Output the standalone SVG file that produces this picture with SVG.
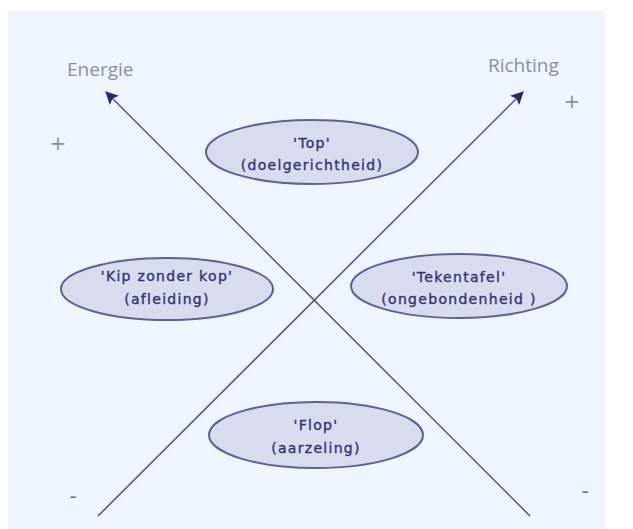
<svg xmlns="http://www.w3.org/2000/svg" width="633" height="529" viewBox="0 0 633 529">
<defs>
<marker id="ah" viewBox="0 0 12 12" refX="11" refY="6" markerWidth="13" markerHeight="13" markerUnits="userSpaceOnUse" orient="auto">
<path d="M0,0 L12,6 L0,12 L2.5,6 Z" fill="#252a6a"/>
</marker>
<style>
.ax{stroke:#4d5290;stroke-width:1.5;fill:none}
.nd ellipse{fill:#d9dcee;stroke:#5d6290;stroke-width:2}
.nd text{font-family:"DejaVu Sans",Verdana,sans-serif;font-size:14px;fill:#2f3472;stroke:#2f3472;stroke-width:0.35;text-anchor:middle;letter-spacing:1.3px}
.lb{font-family:"Open Sans","DejaVu Sans",sans-serif;font-size:19px;fill:#8a8ea8}
.sg{font-family:"DejaVu Sans",sans-serif;font-size:20px;fill:#8a8ea8;text-anchor:middle}
.mn{font-family:"DejaVu Sans",sans-serif;font-size:20px;fill:#6a6e88;text-anchor:middle}
</style>
</defs>
<rect x="0" y="0" width="633" height="529" fill="#ffffff"/>
<rect x="8" y="11" width="597" height="518" fill="#eef5fd"/>
<g id="labels">
<text class="lb" x="67" y="76">Energie</text>
<text class="lb" x="488" y="72">Richting</text>
<text class="sg" x="572" y="108">+</text>
<text class="sg" x="58" y="150">+</text>
<text class="mn" x="73" y="503">-</text>
<text class="mn" x="585" y="498">-</text>
</g>
<g id="connectors">
<line class="ax" x1="98" y1="516" x2="523" y2="92" marker-end="url(#ah)"/>
<line class="ax" x1="530" y1="516" x2="106" y2="92" marker-end="url(#ah)"/>
</g>
<g id="top" class="nd">
<ellipse cx="312" cy="152" rx="106" ry="32"/>
<text x="312" y="148">'Top'</text>
<text x="312" y="170">(doelgerichtheid)</text>
</g>
<g id="kip" class="nd">
<ellipse cx="167" cy="289" rx="106" ry="31"/>
<text x="167" y="281">'Kip zonder kop'</text>
<text x="167" y="304">(afleiding)</text>
</g>
<g id="tekentafel" class="nd">
<ellipse cx="459" cy="286" rx="108" ry="32"/>
<text x="459" y="282">'Tekentafel'</text>
<text x="459" y="304">(ongebondenheid )</text>
</g>
<g id="flop" class="nd">
<ellipse cx="316" cy="435" rx="107" ry="33"/>
<text x="316" y="430">'Flop'</text>
<text x="316" y="453">(aarzeling)</text>
</g>
</svg>
